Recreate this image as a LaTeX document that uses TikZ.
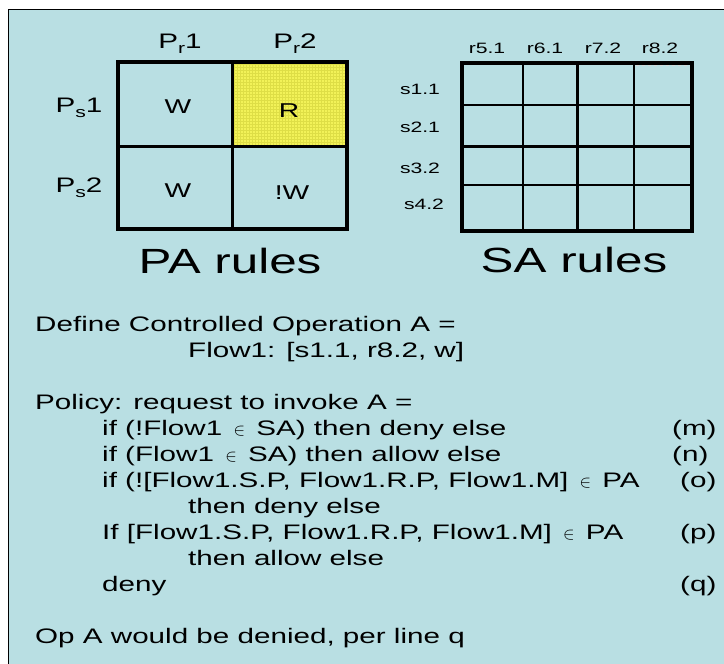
\documentclass[tikz,border=0pt]{standalone}
\usepackage{fontspec}
\setmainfont{Liberation Sans}[FakeStretch=1.41]
\usetikzlibrary{patterns}
\definecolor{bg}{RGB}{185,223,227}
\definecolor{ylw}{RGB}{242,242,88}
\definecolor{ylwgrid}{RGB}{222,222,70}
\definecolor{dashgray}{RGB}{215,215,215}
\newcommand{\lowsub}[1]{\raisebox{-5pt}{\fontsize{15}{15}\selectfont #1}}
\newcommand{\elem}{\hspace{3pt}{\fontsize{18}{18}\selectfont$\in$}\hspace{3pt}}
\begin{document}
\begin{tikzpicture}[x=1pt,y=-1pt,
  txt/.style={anchor=base west, inner sep=0pt, font=\fontsize{21}{26}\selectfont},
  big/.style={anchor=base, inner sep=0pt, font=\fontsize{35}{40}\selectfont},
  plab/.style={anchor=base, inner sep=0pt, font=\fontsize{21}{24}\selectfont},
  cell/.style={anchor=base, inner sep=0pt, font=\fontsize{20}{24}\selectfont},
  slab/.style={anchor=base, inner sep=0pt, font=\fontsize{15}{18}\selectfont},
  thickln/.style={line width=4pt, line cap=rect},
  midln/.style={line width=3pt},
  thinln/.style={line width=1.4pt}]
\clip (0,0) rectangle (724,664);
\fill[white] (0,0) rectangle (724,664);
\draw[fill=bg, line width=1.5pt] (8.5,760) -- (8.5,9.5) -- (760,9.5) -- (760,760) -- cycle;

% ---- PA grid ----
\fill[ylw] (232,62) rectangle (347,146);
\fill[pattern=grid, pattern color=ylwgrid] (232,62) rectangle (347,146);
\draw[midln] (232,62) -- (232,229);
\draw[midln] (118,146) -- (347,146);
\draw[thickln] (118,62) rectangle (347,229);

\node[plab] (pr1) at (180,48) {P\lowsub{r}1};
\node[plab] (pr2) at (295,48) {P\lowsub{r}2};
\node[plab] (ps1) at (79,112) {P\lowsub{s}1};
\node[plab] (ps2) at (79,192) {P\lowsub{s}2};
\node[cell] (c11) at (178,113) {W};
\node[cell] (c12) at (289,117) {R};
\node[cell] (c21) at (178,197) {W};
\node[cell] (c22) at (292,199) {!W};
\node[big] (parules) at (230,273) {PA rules};

% ---- SA grid ----
\draw[dashgray, line width=0.8pt, dashed] (636,65) -- (689,65);
\draw[dashgray, line width=0.8pt, dashed] (636,104) -- (689,104);
\draw[thinln] (523,62.5) -- (523,231);
\draw[thinln] (634,62.5) -- (634,231);
\draw[thinln] (462,105) -- (692,105);
\draw[thinln] (462,185) -- (692,185);
\draw[midln] (577,62.5) -- (577,231);
\draw[midln] (462,146) -- (692,146);
\draw[thickln] (462,62.5) rectangle (692,231);

\node[slab] (r51) at (487,53) {r5.1};
\node[slab] (r61) at (545,53) {r6.1};
\node[slab] (r72) at (603,53) {r7.2};
\node[slab] (r82) at (660,53) {r8.2};
\node[slab] (s11) at (420,94) {s1.1};
\node[slab] (s21) at (420,132) {s2.1};
\node[slab] (s32) at (420,173) {s3.2};
\node[slab] (s42) at (424,209) {s4.2};
\node[big] (sarules) at (574,272) {SA rules};

% ---- text ----
\node[txt] (l1) at (35,331) {Define Controlled Operation A =};
\node[txt] (l2) at (188,357) {Flow1: [s1.1, r8.2, w]};
\node[txt] (l3) at (35,409) {Policy: request to invoke A =};
\node[txt] (l4) at (102,435) {if (!Flow1 \elem{} SA) then deny else};
\node[txt] (l5) at (102,461) {if (Flow1 \elem{} SA) then allow else};
\node[txt] (l6) at (102,487) {if (![Flow1.S.P, Flow1.R.P, Flow1.M] \elem{} PA};
\node[txt] (l7) at (188,513) {then deny else};
\node[txt] (l8) at (102,539) {If [Flow1.S.P, Flow1.R.P, Flow1.M] \elem{} PA};
\node[txt] (l9) at (188,565) {then allow else};
\node[txt] (l10) at (102,591) {deny};
\node[txt] (l11) at (35,643) {Op A would be denied, per line q};
\node[txt] (m) at (672,435) {(m)};
\node[txt] (n) at (672,461) {(n)};
\node[txt] (o) at (680,487) {(o)};
\node[txt] (p) at (680,539) {(p)};
\node[txt] (q) at (680,591) {(q)};
\end{tikzpicture}
\end{document}
